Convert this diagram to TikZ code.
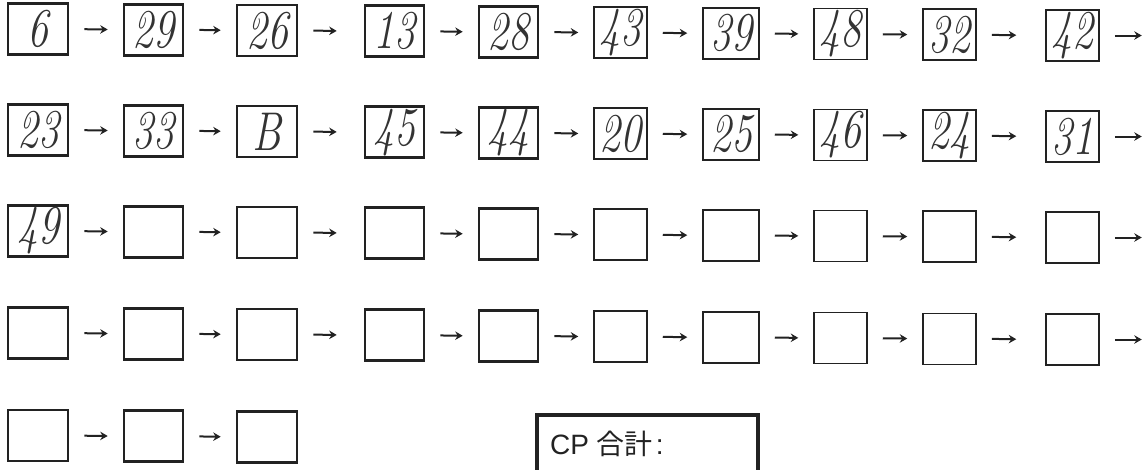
\documentclass[tikz,border=0pt]{standalone}
\usepackage{fontspec}
\usetikzlibrary{arrows.meta}
\newfontfamily\cjk{Noto Sans CJK JP}
\newfontfamily\arialish{Liberation Sans}
\definecolor{ink}{HTML}{222222}
\definecolor{pen}{HTML}{333333}
\tikzset{
  cell/.style={draw=ink, rectangle, minimum height=51, inner sep=0pt},
  thickcell/.style={cell, line width=2.6},
  thincell/.style={cell, line width=1.5},
  arr/.style={draw=ink, line width=2, -{Stealth[length=7.5,width=8.5,inset=2.5]}, shorten <=15},
  hand/.style={text=pen, inner sep=0pt, font=\fontsize{42}{42}\selectfont\itshape},
  cpbox/.style={draw=ink, line width=4.2, rectangle, minimum width=221, minimum height=70, inner sep=0pt, anchor=north west},
  cptext/.style={anchor=base west, inner sep=0pt, text=ink, font=\fontsize{28}{28}\selectfont\arialish}
}
\begin{document}
\begin{tikzpicture}[x=1pt,y=-1pt]
\useasboundingbox (0,0) rectangle (1148,469);
\clip (0,0) rectangle (1148,469);
\foreach \r/\ry/\nc in {1/29/10,2/130/10,3/231/10,4/333/10,5/435.5/3}{
  \foreach \c/\x/\w/\st in {1/38/60/thickcell,2/153.5/59/thickcell,3/267/60/thickcell,4/394.5/59/thickcell,5/508.5/59/thickcell,6/620.5/53/thincell,7/731/56/thincell,8/840.5/53/thincell,9/949.5/53/thincell,10/1072.5/53/thincell}{
    \ifnum\c>\nc\relax\else
      \pgfmathsetmacro\yy{\ry+0.0063*(\x-38)}
      \ifnum\r=5
        \node[thickcell, minimum width=\w] (b-\r-\c) at (\x,\yy) {};
      \else
        \node[\st, minimum width=\w] (b-\r-\c) at (\x,\yy) {};
      \fi
    \fi
  }
}
% arrows
\foreach \r in {1,2,3,4}{
  \foreach \a/\b/\s in {1/2/15,2/3/15,3/4/27,4/5/15,5/6/15,6/7/15,7/8/15,8/9/15,9/10/29}{
    \draw[arr, shorten >=\s] (b-\r-\a.east) -- (b-\r-\b.west);
  }
  \path (b-\r-10.east) ++(42,0) coordinate (e-\r);
  \draw[arr] (b-\r-10.east) -- (e-\r);
}
\draw[arr, shorten >=15] (b-5-1.east) -- (b-5-2.west);
\draw[arr, shorten >=15] (b-5-2.east) -- (b-5-3.west);
% handwritten numbers
\foreach \c/\t in {1/6,2/29,3/26,4/13,5/28,6/43,7/39,8/48,9/32,10/42}{
  \node[hand] at (b-1-\c) {\scalebox{1}[1.3]{\t}};
}
\foreach \c/\t in {1/23,2/33,3/B,4/45,5/44,6/20,7/25,8/46,9/24,10/31}{
  \node[hand] at (b-2-\c) {\scalebox{1}[1.3]{\t}};
}
\node[hand] at (b-3-1) {\scalebox{1}[1.3]{49}};
% CP total box
\node[cpbox] (cp) at (535,413) {};
\node[cptext] (cpt) at ([xshift=15,yshift=-41]cp.north west)
  {CP {\cjk 合計}\hspace{3pt}:};
\end{tikzpicture}
\end{document}
